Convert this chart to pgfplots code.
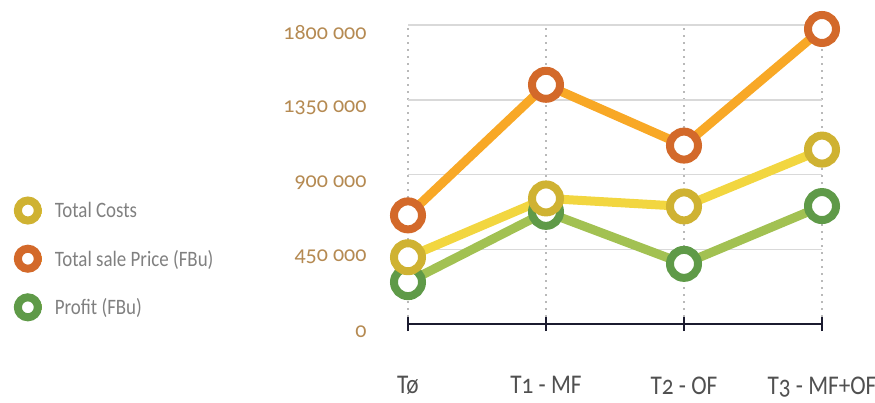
\documentclass[border=0pt]{standalone}
\usepackage{pgfplots}
\pgfplotsset{compat=1.18}
\usepackage{fontspec}
\setmainfont{Carlito}[Numbers=OldStyle, FakeStretch=0.86]
\newfontfamily\numfont{Carlito}[Numbers=OldStyle]

\definecolor{costline}{HTML}{F2D640}
\definecolor{costmark}{HTML}{CFB232}
\definecolor{saleline}{HTML}{F8A826}
\definecolor{salemark}{HTML}{D3692A}
\definecolor{profline}{HTML}{A2C152}
\definecolor{profmark}{HTML}{5F9A48}
\definecolor{ylab}{HTML}{B58A52}
\definecolor{xlab}{HTML}{505050}
\definecolor{legtext}{HTML}{808080}
\definecolor{axisdark}{HTML}{1B1B2F}

\begin{document}
\begin{tikzpicture}
\useasboundingbox (0,0) rectangle (875pt,402pt);
\begin{axis}[
    at={(408pt,78pt)}, anchor=south west,
    scale only axis, width=414pt, height=299pt,
    xmin=0, xmax=3, ymin=0, ymax=1800000,
    clip=false,
    scaled y ticks=false,
    axis x line*=bottom, axis y line*=left,
    x axis line style={draw=axisdark, line width=2.5pt, -},
    y axis line style={draw=none},
    xtick={0,1,2,3},
    xticklabels={Tø, T1 - MF, T2 - OF, T3 - MF+OF},
    ytick={0,450000,900000,1350000,1800000},
    yticklabels={0, 450\ 000, 900\ 000, 1350\ 000, 1800\ 000},
    tick align=center, major tick length=14pt,
    xtick style={draw=axisdark, line width=2.5pt},
    ytick style={draw=none},
    xticklabel style={font=\fontsize{27}{27}\selectfont, text=xlab, yshift=-42pt},
    yticklabel style={font=\numfont\fontsize{22}{22}\selectfont, text=ylab, anchor=east, xshift=-31pt, yshift=-8pt},
    xmajorgrids, ymajorgrids,
    major x grid style={draw=gray!55, line width=2pt, dash pattern=on 2pt off 5pt},
    major y grid style={draw=gray!30, line width=1.5pt},
    reverse legend,
    legend cell align=left,
    legend style={at={(-0.967,0.217)}, anchor=west, draw=none, fill=none,
        font=\fontsize{22}{22}\selectfont, text=legtext, row sep=27pt,
        nodes={inner sep=2pt},
        /tikz/every odd column/.append style={column sep=8pt}},
    legend image code/.code={%
        \draw[#1, line width=6pt] (-14pt,0) -- (14pt,0);
        \draw[#1, mark size=10pt] plot coordinates {(0pt,0pt)};
    },
]
\addplot[profline, line width=9pt, mark=*, mark size=14pt,
    mark options={draw=profmark, fill=white, line width=8pt}]
    coordinates {(0,252000) (1,675000) (2,362000) (3,710000)};
\addlegendentry{Profit (FBu)}
\addplot[saleline, line width=9pt, mark=*, mark size=14pt,
    mark options={draw=salemark, fill=white, line width=8pt}]
    coordinates {(0,654000) (1,1440000) (2,1074000) (3,1776000)};
\addlegendentry{Total sale Price (FBu)}
\addplot[costline, line width=9pt, mark=*, mark size=14pt,
    mark options={draw=costmark, fill=white, line width=8pt}]
    coordinates {(0,402000) (1,756000) (2,708000) (3,1050000)};
\addlegendentry{Total Costs}
\end{axis}
\end{tikzpicture}
\end{document}
